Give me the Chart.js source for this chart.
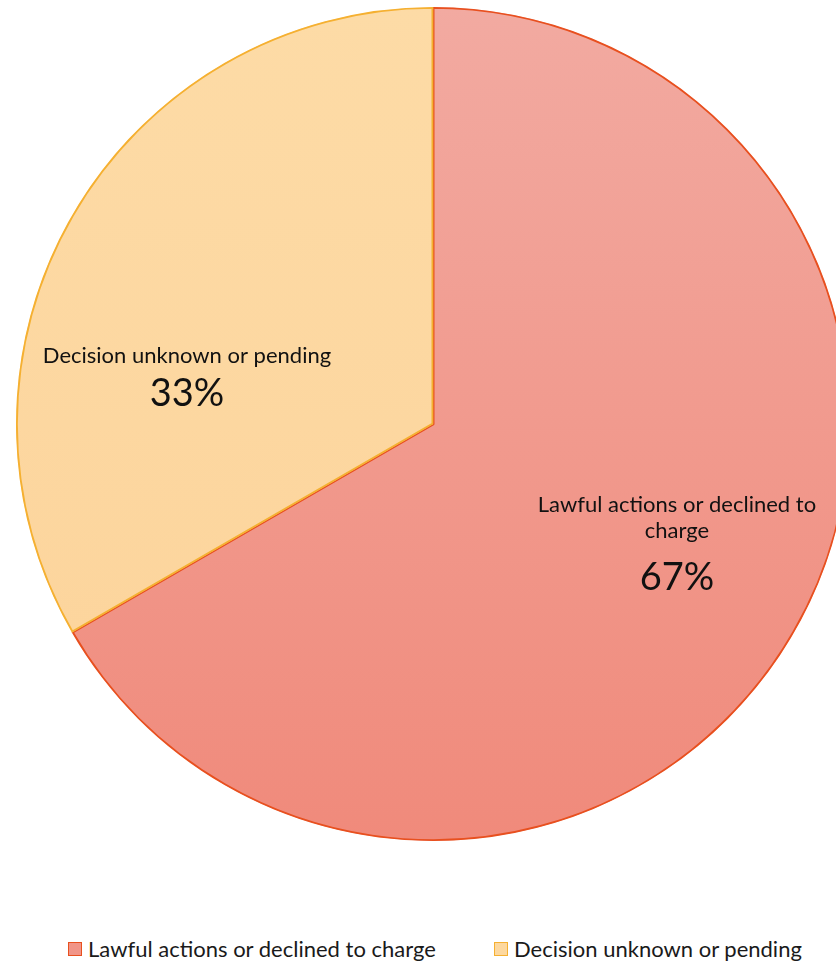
<!DOCTYPE html>
<html>
<head>
<meta charset="utf-8">
<script src="https://cdn.jsdelivr.net/npm/chart.js@4"></script>
<style>
  html, body { margin: 0; padding: 0; background: #ffffff; overflow: hidden; width: 836px; height: 969px; }
  #wrap { position: relative; width: 836px; height: 969px; overflow: hidden; }
  #pieBox { position: absolute; left: 16px; top: 7px; width: 834px; height: 834px; }
  #legend { position: absolute; top: 938px; left: 0; width: 836px; height: 26px; font-family: Lato, "Open Sans", sans-serif; font-size: 22px; line-height: 22px; color: #1a1a1a; }
  .item { position: absolute; top: 0; display: flex; align-items: center; white-space: nowrap; }
  .sw { width: 14px; height: 14px; margin-right: 6px; box-sizing: border-box; }
</style>
</head>
<body>
<div id="wrap">
  <div id="pieBox"><canvas id="c" width="834" height="834"></canvas></div>
  <div id="legend"></div>
</div>
<script>
// ---- data ----
const categories = ["Lawful actions or declined to charge", "Decision unknown or pending"];
const values = [66.67, 33.33];
const percentLabels = ["67%", "33%"];
const sliceLabelLines = [["Lawful actions or declined to", "charge"], ["Decision unknown or pending"]];

// ---- styles ----
const borderColors = ["#E8501F", "#F5B031"];
const legendFill = ["#F19588", "#FDD89E"];
// label anchor offsets in units of radius (layout only)
const labelOffsets = [[0.585, 0.2115], [-0.590, -0.147]];
const lineGaps = [[0, 26], [0]];
const percentGap = [78, 43];

function sliceFill(ctx) {
  const i = ctx.dataIndex;
  const area = ctx.chart.chartArea;
  if (!area) return legendFill[i];
  const g = ctx.chart.ctx.createLinearGradient(0, area.top, 0, area.bottom);
  if (i === 0) {
    g.addColorStop(0, "#F2AAA1");
    g.addColorStop(1, "#F08A7B");
  } else {
    g.addColorStop(0, "#FDDBA6");
    g.addColorStop(1, "#FCD39A");
  }
  return g;
}

const sliceLabelPlugin = {
  id: "sliceLabels",
  afterDatasetsDraw(chart) {
    const meta = chart.getDatasetMeta(0);
    const c = chart.ctx;
    meta.data.forEach((arc, i) => {
      const p = arc.getProps(["x", "y", "outerRadius"], true);
      const cx = p.x + labelOffsets[i][0] * p.outerRadius;
      const cy = p.y + labelOffsets[i][1] * p.outerRadius;
      c.save();
      c.fillStyle = "#111";
      c.textAlign = "center";
      c.textBaseline = "alphabetic";
      c.font = "22px Lato, 'Open Sans', sans-serif";
      sliceLabelLines[i].forEach((line, k) => {
        c.fillText(line, cx, cy + lineGaps[i][k]);
      });
      c.font = "38px Lato, 'Open Sans', sans-serif";
      c.fillText(percentLabels[i], cx, cy + percentGap[i]);
      c.restore();
    });
  }
};

new Chart(document.getElementById("c"), {
  type: "pie",
  data: {
    labels: categories,
    datasets: [{
      data: values,
      backgroundColor: sliceFill,
      borderColor: borderColors,
      borderWidth: 1.5,
      borderAlign: "inner"
    }]
  },
  options: {
    responsive: false,
    animation: false,
    rotation: 0,
    layout: { padding: 0 },
    plugins: { legend: { display: false }, tooltip: { enabled: false } }
  },
  plugins: [sliceLabelPlugin]
});

// HTML legend
const legend = document.getElementById("legend");
const legendX = [68, 494];
categories.forEach((name, i) => {
  const it = document.createElement("div");
  it.className = "item";
  it.style.left = legendX[i] + "px";
  const sw = document.createElement("div");
  sw.className = "sw";
  sw.style.background = legendFill[i];
  sw.style.border = "1px solid " + borderColors[i];
  const tx = document.createElement("span");
  tx.textContent = name;
  it.appendChild(sw);
  it.appendChild(tx);
  legend.appendChild(it);
});
</script>
</body>
</html>
